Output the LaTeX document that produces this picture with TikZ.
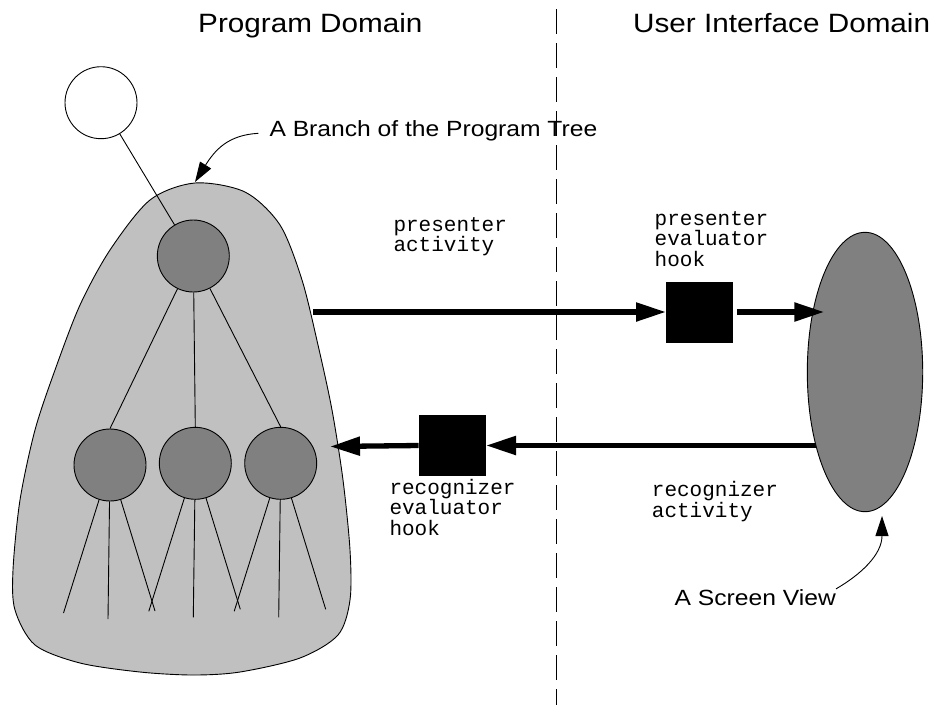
\documentclass[tikz,border=0pt]{standalone}
\usepackage{fontspec}
\usetikzlibrary{arrows.meta,shapes.geometric,calc}
\newfontfamily\helvfont[FakeStretch=1.12]{Liberation Sans}
\newfontfamily\courfont{Liberation Mono}
\definecolor{branchgray}{RGB}{192,192,192}
\definecolor{nodegray}{RGB}{128,128,128}

\begin{document}
\begin{tikzpicture}[x=1pt, y=-1pt,
	thinline/.style={line width=0.9pt},
	treenode/.style={circle, draw, thinline, fill=nodegray, minimum size=72pt, inner sep=0pt},
	hookbox/.style={rectangle, fill=black, minimum width=67pt, minimum height=61pt, inner sep=0pt},
	bigarrow/.style={line width=5.3pt, -{Triangle[length=30pt, width=18pt]}},
	callout/.style={thinline, -{Triangle[length=20pt, width=13pt]}},
	titletext/.style={font=\helvfont\fontsize{26.5}{30}\selectfont, inner sep=0pt, anchor=base west},
	labeltext/.style={font=\helvfont\fontsize{22}{26}\selectfont, inner sep=0pt},
	codetext/.style={font=\courfont\fontsize{21}{20.5}\selectfont, align=left, inner sep=0pt, anchor=base west}]
	\useasboundingbox (0,0) rectangle (933,710);

	% Ueberschriften
	\node[titletext] (progdom) at (198,32.5) {Program Domain};
	\node[titletext] (uidom) at (633,32.5) {User Interface Domain};
	\draw[thinline, dash pattern=on 25pt off 9pt, dash phase=25pt] (556,0) -- (556,705);

	% Zweig des Programmbaums
	\filldraw[thinline, fill=branchgray] plot[smooth cycle] coordinates {
		(195,183) (245,192) (280,225) (302,280) (318,345) (332,410) (343,480)
		(350,550) (350,600) (338,635) (300,658) (240,672) (193,675) (140,672)
		(80,663) (35,645) (15,610) (13,570) (20,500) (35,430) (55,370)
		(80,305) (110,250) (150,200)};
	\coordinate (branchtop) at (195,182);
	\coordinate (branchout) at (313,312);
	\coordinate (branchin) at (330,446.5);

	% Knoten
	\node[treenode, fill=white] (root) at (101,102.7) {};
	\node[treenode] (top) at (193.3,256) {};
	\node[treenode] (lc) at (110,465) {};
	\node[treenode] (mc) at (195.3,463.3) {};
	\node[treenode] (rc) at (280.7,463.3) {};
	\draw[thinline] (root) -- (top);
	\draw[thinline] (top) -- (lc.north);
	\draw[thinline] (top) -- (mc.north);
	\draw[thinline] (top) -- (rc.north);
	% Blaetter
	\foreach \c in {lc,mc,rc}
		\foreach \dx/\dy [count=\i] in {-46.5/148,-2/154,45/146} {
			\coordinate (\c-\i) at ($(\c)+(\dx,\dy)$);
			\draw[thinline] (\c) -- (\c-\i);
		}

	% Beschriftung Zweig
	\node[labeltext, anchor=base west] (branch) at (269.3,136) {A Branch of the Program Tree};
	\draw[callout] ([xshift=-11pt,yshift=-3pt]branch.west) .. controls (228,135) and (215,150) .. (branchtop);

	% Haken
	\node[hookbox] (pbox) at (699.7,312) {};
	\node[hookbox] (rbox) at (452.3,445.5) {};
	\node[codetext] (pact) at (393.3,251.7) {presenter\\activity};
	\node[codetext] (peval) at (654.5,266) {presenter\\evaluator\\hook};
	\node[codetext] (reval) at (389.3,535) {recognizer\\evaluator\\hook};
	\node[codetext] (ract) at (651.7,517) {recognizer\\activity};

	% Aktivitaeten
	\coordinate (viewc) at (865,372);
	\coordinate (viewin) at (824.3,312);
	\draw[bigarrow] (branchout) -- (pbox.west);
	\draw[bigarrow] (rbox.west) -- (branchin);
	\draw[bigarrow] (viewc |- rbox.east) -- (rbox.east);
	\node[ellipse, draw, thinline, fill=nodegray, minimum width=115.4pt, minimum height=279.4pt, inner sep=0pt] (view) at (viewc) {};
	\draw[bigarrow] ([xshift=3.5pt]pbox.east) -- (viewin);

	% Beschriftung Bildschirm
	\coordinate (viewbottom) at (882,516);
	\node[labeltext, anchor=base east] (screen) at (836,605) {A Screen View};
	\draw[callout] (screen.north east) .. controls (860,575) and (882,555) .. (viewbottom);
\end{tikzpicture}
\end{document}
